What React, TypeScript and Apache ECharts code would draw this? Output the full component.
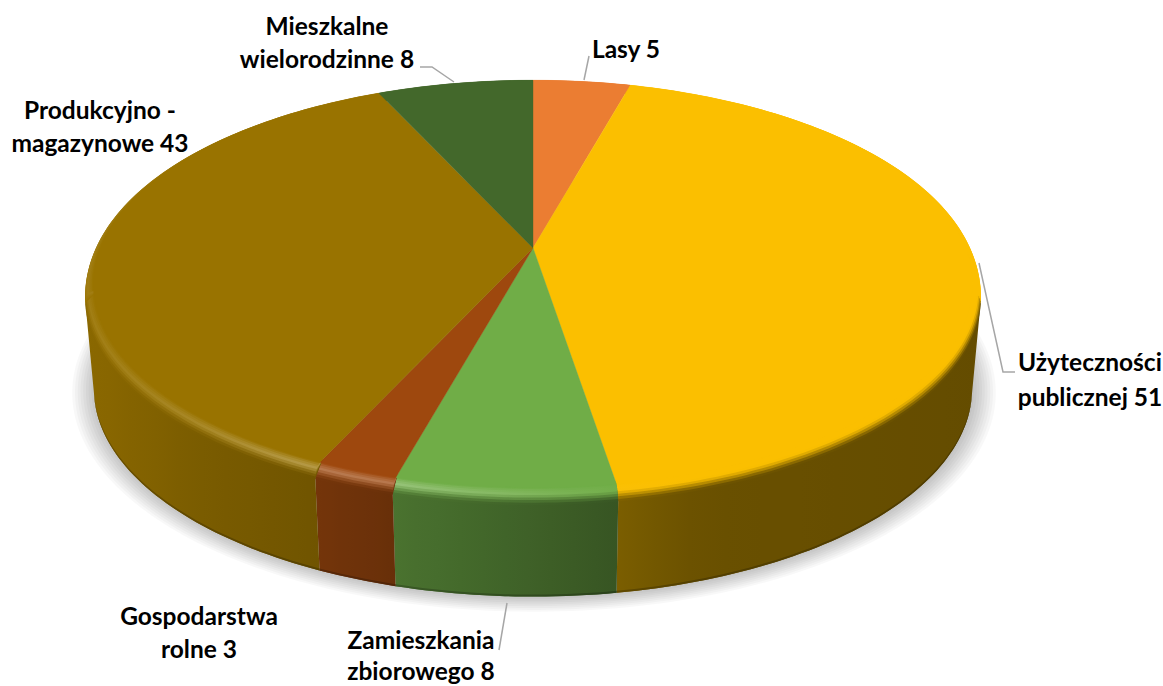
import React, { useEffect, useRef } from "react";
import * as echarts from "echarts";

const NAMES = ["Lasy", "Użyteczności\npublicznej", "Zamieszkania\nzbiorowego", "Gospodarstwa\nrolne", "Produkcyjno -\nmagazynowe", "Mieszkalne\nwielorodzinne"];
const VALUES = [5, 51, 8, 3, 43, 8];
const COLORS = ["#EB7D32", "#FBBF00", "#70AD47", "#9E480E", "#997300", "#43682B"];

// label line centres and leader lines (layout, not data)
const LABEL_POS: number[][] = [[626, 48], [1090, 361, 396], [421, 639, 670], [199, 615, 648], [100, 109, 142], [327, 25, 58]];
const LEADERS = [
  [[589, 56], [584, 80]],
  [[979, 263], [1003, 372], [1015, 372]],
  [[507, 603], [499, 650]],
  null,
  null,
  [[420, 67], [432, 67], [454, 82]],
];

// projection of the tilted disc
const CX = 533, CY = 248, K = 0.18, A = 201, B = 440.7;
const FLAT = 0.982, RIM_DROP = 12, DEPTH = 103.5, BOTTOM_SCALE = 0.98;
const SPLIT_R = (102 * Math.PI) / 180, SPLIT_L = (258 * Math.PI) / 180;
const SHADOW_STEPS = [0.05, 0.044, 0.038, 0.032, 0.026, 0.02, 0.014, 0.008, 0.002];

const total = VALUES.reduce((a, b) => a + b, 0);
const angles = (() => {
  const out: [number, number][] = [];
  let c = 0;
  VALUES.forEach((v) => {
    const s = (c / total) * Math.PI * 2;
    c += v;
    out.push([s, (c / total) * Math.PI * 2]);
  });
  return out;
})();

const proj = (t: number, r: number, dz = 0, bs = 1): [number, number] => {
  const u = r * Math.sin(t), v = r * Math.cos(t), w = 1 + K * v;
  return [CX + (B * bs * u) / w, CY - (A * v) / w + dz];
};
const arc = (a: number, b: number, r: number, dz = 0, bs = 1) => {
  const n = Math.max(2, Math.ceil(Math.abs(b - a) / 0.02));
  const pts: [number, number][] = [];
  for (let i = 0; i <= n; i++) pts.push(proj(a + ((b - a) * i) / n, r, dz, bs));
  return pts;
};
const hex = (c: string) => [1, 3, 5].map((i) => parseInt(c.slice(i, i + 2), 16));
const css = (c: number[]) => `rgb(${c.map((x) => Math.round(x)).join(",")})`;
const mix = (a: number[], b: number[], t: number) => a.map((x, i) => x + (b[i] - x) * t);
const interp = (tbl: number[][], x: number) => {
  if (x <= tbl[0][0]) return tbl[0][1];
  for (let i = 1; i < tbl.length; i++) {
    if (x <= tbl[i][0]) {
      const f = (x - tbl[i - 1][0]) / (tbl[i][0] - tbl[i - 1][0]);
      return tbl[i - 1][1] + (tbl[i][1] - tbl[i - 1][1]) * f;
    }
  }
  return tbl[tbl.length - 1][1];
};
const WALL_LIGHT = [[95, 0.9], [200, 0.8], [320, 0.73], [395, 0.66], [617, 0.49], [700, 0.42], [975, 0.4]];
const RIM_LIGHT = [[85, 0.08], [200, 0.16], [300, 0.28], [395, 0.27], [500, 0.16], [617, 0.02], [700, 0], [990, 0]];

const wallCol = (base: number[], x: number) => base.map((c) => c * interp(WALL_LIGHT, x));
const rimCol = (base: number[], x: number, t: number, front: boolean) => {
  const bump = t < 0.45 ? t / 0.45 : Math.max(0, 1 - (t - 0.45) / 0.55);
  const lit = mix(base, [255, 255, 255], interp(RIM_LIGHT, x) * bump);
  if (!front) return lit;
  const s = t < 0.4 ? 0 : (t - 0.4) / 0.6;
  return mix(lit, wallCol(base, x), s * s * (3 - 2 * s));
};
const xGradient = (pts: [number, number][], colorAt: (x: number) => number[]) => {
  const xs = pts.map((p) => p[0]);
  const x0 = Math.min(...xs), x1 = Math.max(...xs);
  const stops = [];
  for (let i = 0; i <= 10; i++) stops.push({ offset: i / 10, color: css(colorAt(x0 + ((x1 - x0) * i) / 10)) });
  return new echarts.graphic.LinearGradient(x0, 0, x1 > x0 ? x1 : x0 + 1, 0, stops, true);
};
// split a slice into the parts where the wall is visible and where it is not
const parts = (i: number) => {
  const [s, e] = angles[i];
  const out: { a: number; b: number; front: boolean }[] = [];
  const cuts = [0, SPLIT_R, SPLIT_L, Math.PI * 2];
  for (let c = 0; c < 3; c++) {
    const a = Math.max(s, cuts[c]), b = Math.min(e, cuts[c + 1]);
    if (b > a) out.push({ a, b, front: c === 1 });
  }
  return out;
};

const shadowLayer = () =>
  SHADOW_STEPS.map((d) => ({
    type: "polygon",
    shape: { points: arc(0, Math.PI * 2, 1 + d, DEPTH, BOTTOM_SCALE).map((p) => [p[0] + 1, p[1]]) },
    style: { fill: "rgba(0,0,0,0.027)" },
  }));
const wallLayer = (i: number) => {
  const base = hex(COLORS[i]);
  const ch: any[] = [];
  parts(i).filter((p) => p.front).forEach((p) => {
    const top = arc(p.a, p.b, 1, RIM_DROP - 3);
    const bot = arc(p.b, p.a, 1, DEPTH, BOTTOM_SCALE);
    const wall = [...top, ...bot];
    const fill = xGradient(wall, (x) => wallCol(base, x));
    ch.push({ type: "polygon", shape: { points: wall }, style: { fill } });
    const edge = [...arc(p.a, p.b, 1, DEPTH - 2, BOTTOM_SCALE), ...bot];
    ch.push({ type: "polygon", shape: { points: edge }, style: { fill: xGradient(bot, (x) => wallCol(base, x).map((c) => c * 0.78)) } });
  });
  return ch;
};
const RIM_STEPS = [1, 0.875, 0.75, 0.625, 0.5, 0.375, 0.25, 0.125];
const rimLayer = (i: number) => {
  const base = hex(COLORS[i]);
  const ch: any[] = [];
  parts(i).forEach((p) => {
    RIM_STEPS.forEach((t) => {
      const q = (t * Math.PI) / 2;
      const r = FLAT + (1 - FLAT) * Math.sin(q);
      const dz = RIM_DROP * (1 - Math.cos(q));
      const outer = arc(p.a, p.b, r, dz);
      const inner = arc(p.b, p.a, FLAT - 0.01);
      const pts = [...outer, ...inner];
      const tm = t - 0.0625;
      ch.push({
        type: "polygon",
        shape: { points: pts },
        style: { fill: xGradient(outer, (x) => rimCol(base, x, tm, p.front)) },
      });
    });
  });
  return ch;
};
const flatLayer = (i: number) => {
  const [s, e] = angles[i];
  return [{
    type: "polygon",
    shape: { points: [[CX, CY], ...arc(s, e, FLAT)] },
    style: { fill: COLORS[i], stroke: COLORS[i], lineWidth: 0.4 },
  }];
};

const layer = (fn: (i: number) => any[], data: number[]) => ({
  type: "custom",
  coordinateSystem: "none",
  silent: true,
  data,
  renderItem: (params: any) => ({ type: "group", children: fn(params.dataIndex) }),
});

export default function App() {
  const ref = useRef<HTMLDivElement>(null);
  useEffect(() => {
    document.body.style.margin = "0";
    const chart = echarts.init(ref.current!, undefined, { renderer: "svg" });
    const graphic: any[] = [];
    NAMES.forEach((n, i) => {
      const lines = `${n} ${VALUES[i]}`.split("\n");
      lines.forEach((line, j) => {
        graphic.push({
          type: "text",
          z: 20,
          style: {
            text: line,
            x: LABEL_POS[i][0],
            y: LABEL_POS[i][1 + j],
            align: "center",
            verticalAlign: "middle",
            fontFamily: "Lato",
            fontWeight: "bold",
            fontSize: 24.5,
            lineHeight: 24,
            fill: "#000000",
          },
        });
      });
      const l = LEADERS[i];
      if (l) graphic.push({ type: "polyline", z: 19, shape: { points: l }, style: { stroke: "#A6A6A6", lineWidth: 1.5, fill: "none" } });
    });
    chart.setOption({
      animation: false,
      backgroundColor: "#ffffff",
      graphic,
      series: [
        layer(shadowLayer, [total]),
        layer(wallLayer, VALUES),
        layer(rimLayer, VALUES),
        layer(flatLayer, VALUES),
      ],
    });
    return () => chart.dispose();
  }, []);
  return <div ref={ref} style={{ position: "fixed", left: 0, top: 0, width: 1163, height: 686 }} />;
}
